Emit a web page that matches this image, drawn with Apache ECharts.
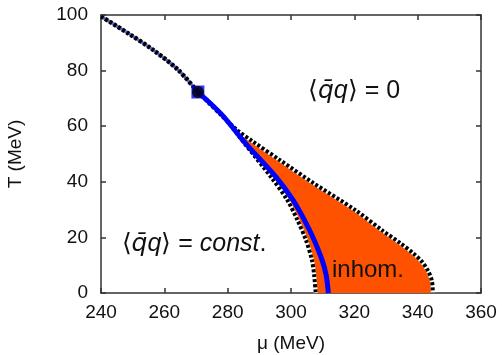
<!DOCTYPE html>
<html>
<head>
<meta charset="utf-8">
<script src="https://cdn.jsdelivr.net/npm/echarts@6/dist/echarts.min.js"></script>
<style>
  html, body { margin: 0; padding: 0; background: #fff; }
  #chart { width: 502px; height: 355px; }
</style>
</head>
<body>
<div id="chart"></div>
<script>
// axis ticks
const muTicks = [240, 260, 280, 300, 320, 340, 360];
const tTicks = [0, 20, 40, 60, 80, 100];

// first-order line (dashed), from the axis down to the critical point
const firstOrderMu = [240, 248.6, 256.5, 264.4, 270.6];
const firstOrderT = [99.5, 93.4, 87.4, 80.2, 72.3];

// critical point
const cpMu = [270.6];
const cpT = [72.3];

// blue line from the critical point
const blueMu = [270.6, 278.3, 285.5, 295.3, 300.6, 304.2, 307.3, 309.8, 311.1, 311.8];
const blueT = [72.3, 64.0, 54.0, 41.7, 33.5, 26.3, 19.1, 11.9, 6.5, 0];

// inhomogeneous phase: inner and outer boundary
const innerMu = [270.6, 278.3, 285.2, 293.7, 298.8, 302.0, 304.7, 306.6, 307.3, 307.8];
const innerT = [72.3, 64.0, 54.0, 41.7, 33.5, 26.3, 19.1, 11.9, 6.5, 0];
const outerMu = [270.6, 277.6, 283.3, 287.7, 296.5, 307.0, 320.2, 329.1, 334.4, 338.5, 341.4, 343.3, 344.5, 344.8];
const outerT = [72.3, 64.4, 58.3, 54.7, 47.8, 39.6, 29.9, 22.3, 18.0, 14.4, 11.2, 7.9, 4.3, 0];

const pairs = (xs, ys) => xs.map((x, i) => [x, ys[i]]);

const FONT = "Liberation Sans, Arial, sans-serif";
const frame = { color: "#333", width: 1.5 };

const chart = echarts.init(document.getElementById("chart"), null, { renderer: "canvas" });

const axisCommon = {
  type: "value",
  splitLine: { show: false },
  axisLine: { show: true, onZero: false, lineStyle: frame },
  axisTick: { show: true, inside: true, length: 5, lineStyle: frame },
};

const regionPoly = pairs(outerMu, outerT).concat(pairs(innerMu, innerT).reverse());

const lineOf = (d, z, style) => ({
  type: "line", z, data: d, smooth: 0.3, symbol: "none", lineStyle: style,
});

const richText = {
  n: { fontSize: 25, fontFamily: FONT, fill: "#111" },
  i: { fontSize: 25, fontFamily: FONT, fontStyle: "italic", fill: "#111" },
  b: { fontSize: 25, fontFamily: "DejaVu Sans", fontStyle: "italic", fill: "#111" },
};

chart.setOption({
  animation: false,
  grid: { left: 101, right: 21, top: 15, bottom: 62, outerBoundsMode: "none" },
  xAxis: [
    Object.assign({}, axisCommon, {
      min: muTicks[0], max: muTicks[muTicks.length - 1], interval: 20,
      position: "bottom",
      name: "μ (MeV)", nameLocation: "middle", nameGap: 41,
      nameTextStyle: { fontSize: 19, color: "#111", fontFamily: FONT },
      axisLabel: { fontSize: 19, color: "#111", fontFamily: FONT, margin: 10 },
    }),
    Object.assign({}, axisCommon, {
      min: muTicks[0], max: muTicks[muTicks.length - 1], interval: 20,
      position: "top", axisLabel: { show: false },
    }),
  ],
  yAxis: [
    Object.assign({}, axisCommon, {
      min: tTicks[0], max: tTicks[tTicks.length - 1], interval: 20,
      position: "left",
      name: "T (MeV)", nameLocation: "middle", nameGap: 76,
      nameTextStyle: { fontSize: 19, color: "#111", fontFamily: FONT },
      axisLabel: { fontSize: 19, color: "#111", fontFamily: FONT, margin: 13 },
    }),
    Object.assign({}, axisCommon, {
      min: tTicks[0], max: tTicks[tTicks.length - 1], interval: 20,
      position: "right", axisLabel: { show: false },
    }),
  ],
  series: [
    {
      type: "custom",
      z: 1,
      clip: true,
      data: [[outerMu[0], outerT[0]]],
      renderItem: (params, api) => ({
        type: "polygon",
        shape: { points: regionPoly.map((p) => api.coord(p)) },
        style: { fill: "#ff5200" },
      }),
    },
    // boundary lines: white base + black dashes
    ...[pairs(innerMu, innerT), pairs(outerMu, outerT)].flatMap((d) => [
      lineOf(d, 2, { color: "#fff", width: 4 }),
      lineOf(d, 3, { color: "#000", width: 4, type: [3, 2] }),
    ]),
    lineOf(pairs(blueMu, blueT), 4, { color: "#0000ff", width: 5 }),
    lineOf(pairs(firstOrderMu, firstOrderT), 4, { color: "#fff", width: 4.5 }),
    lineOf(pairs(firstOrderMu, firstOrderT), 5, { color: "#5565c8", width: 3 }),
    lineOf(pairs(firstOrderMu, firstOrderT), 6, { color: "#000", width: 4.5, type: [3, 2] }),
    { type: "scatter", z: 7, data: pairs(cpMu, cpT), symbol: "rect", symbolSize: 13, itemStyle: { color: "#0000ff" } },
    { type: "scatter", z: 8, data: pairs(cpMu, cpT), symbol: "circle", symbolSize: 12, itemStyle: { color: "#000" } },
  ],
  graphic: [
    {
      type: "text", x: 354, y: 91, z: 10,
      style: {
        text: "{n|⟨}{b|q̄}{i|q}{n|⟩ = 0}",
        align: "center", verticalAlign: "middle",
        rich: richText,
      },
    },
    {
      type: "text", x: 194, y: 244, z: 10,
      style: {
        text: "{n|⟨}{b|q̄}{i|q}{n|⟩ = }{i|const}{n|.}",
        align: "center", verticalAlign: "middle",
        rich: richText,
      },
    },
    {
      type: "text", x: 368, y: 270, z: 10,
      style: { text: "inhom.", fontSize: 24, fontFamily: FONT, fill: "#111", align: "center", verticalAlign: "middle" },
    },
  ],
});
</script>
</body>
</html>
